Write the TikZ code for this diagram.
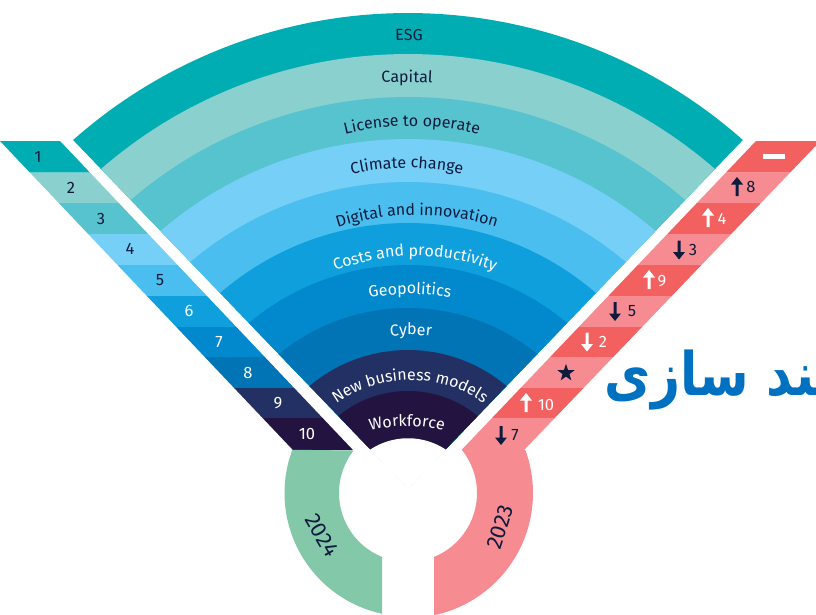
\documentclass[tikz,border=0pt]{standalone}
\usepackage{fontspec}
\usetikzlibrary{decorations.text,shapes.geometric}
\setsansfont{Fira Sans}
\newfontfamily\farsifont[Script=Arabic]{DejaVu Sans}
\TeXXeTstate=1
\definecolor{inkc}{HTML}{0E1B3D}
\definecolor{c1}{HTML}{00ADB3}
\definecolor{c2}{HTML}{89D0CE}
\definecolor{c3}{HTML}{56C3CF}
\definecolor{c4}{HTML}{75CFF7}
\definecolor{c5}{HTML}{4ABFEF}
\definecolor{c6}{HTML}{0F9FDC}
\definecolor{c7}{HTML}{0288CC}
\definecolor{c8}{HTML}{0074B5}
\definecolor{c9}{HTML}{223063}
\definecolor{c10}{HTML}{231340}
\definecolor{redd}{HTML}{F2605F}
\definecolor{redl}{HTML}{F68C91}
\definecolor{greenc}{HTML}{83C9A9}
\definecolor{farsic}{HTML}{0070C0}
\tikzset{
  numlabel/.style={font=\sffamily\fontsize{16.5}{16.5}\selectfont,inner sep=0pt},
  yearlabel/.style={font=\sffamily\fontsize{22}{22}\selectfont,inner sep=0pt,text=inkc},
}
% top y, edge y, colour
\newcommand\fanband[3]{%
  \pgfmathsetmacro\dxx{(488.5-#2)*0.961}%
  \pgfmathsetmacro\cc{(#2+#1)/2+\dxx/(#2-#1)*\dxx/2}%
  \pgfmathsetmacro\rr{\cc-#1}%
  \pgfmathsetmacro\aa{asin(\dxx/\rr)}%
  \fill[#3] plot[domain=-\aa:\aa,samples=90,variable=\t] ({408+\rr*sin(\t)},{\cc-\rr*cos(\t)}) -- (408,488.5) -- cycle;%
}
% text, mid baseline y, radius, half angle, colour, size, centre x
\newcommand\curvelabel[7]{%
  \path[postaction={decorate},decoration={text along path,text align=center,
    text={|\sffamily\fontsize{#6}{#6}\selectfont\color{#5}|#1}}]
    plot[domain=-#4:#4,samples=50,variable=\t] ({#7+#3*sin(\t)},{#2+#3-#3*cos(\t)});%
}
\newcommand\uparr[3]{% x, y mid, colour
  \fill[#3] (#1-1.5,#2+9.5) -- (#1-1.5,#2-2) -- (#1-6,#2-2) -- (#1,#2-9.5) -- (#1+6,#2-2) -- (#1+1.5,#2-2) -- (#1+1.5,#2+9.5) -- cycle;%
}
\newcommand\downarr[3]{%
  \fill[#3] (#1-1.5,#2-9.5) -- (#1-1.5,#2+2) -- (#1-6,#2+2) -- (#1,#2+9.5) -- (#1+6,#2+2) -- (#1+1.5,#2+2) -- (#1+1.5,#2-9.5) -- cycle;%
}
\begin{document}
\begin{tikzpicture}[x=1pt,y=-1pt]
\clip (0,0) rectangle (816,615);
\fill[white] (0,0) rectangle (816,615);
% fan
\fanband{13}{140}{c1}
\fanband{54}{169}{c2}
\fanband{97}{200}{c3}
\fanband{139}{231}{c4}
\fanband{182}{262}{c5}
\fanband{223}{293}{c6}
\fanband{265}{323}{c7}
\fanband{308}{354}{c8}
\fanband{350}{386}{c9}
\fanband{391}{416}{c10}
\fanband{439}{450}{white,draw=white,line width=1.5pt}
% fan labels
\curvelabel{ESG}{40}{470}{5}{inkc}{16}{409}
\curvelabel{Capital}{82}{430}{7}{inkc}{16}{407}
\curvelabel{License to operate}{126}{280}{17}{inkc}{16}{412}
\curvelabel{Climate change}{168}{250}{16}{inkc}{16}{407}
\curvelabel{Digital and innovation}{215}{267}{20}{inkc}{16}{417}
\curvelabel{Costs and productivity}{256}{220}{26}{white}{16}{415}
\curvelabel{Geopolitics}{294}{230}{14}{white}{16}{410}
\curvelabel{Cyber}{335}{190}{10}{white}{16}{411}
\curvelabel{New business models}{380}{127}{42}{white}{16}{410}
\curvelabel{Workforce}{426}{137}{20}{white}{16}{407}
% left strip
\foreach \a/\b/\c in {141/172.7/c1,172.7/203/c2,203/234/c3,234/265/c4,265/296/c5,296/327/c6,327/357/c7,357/388/c8,388/418/c9,418/450/c10}{
  \fill[\c] ({(\a-141)*0.948},\a) -- ({60+(\a-141)*0.948},\a) -- ({60+(\b-141)*0.948},\b) -- ({(\b-141)*0.948},\b) -- cycle;
}
\foreach \n/\x/\y/\c in {1/38/157/inkc,2/71/188/inkc,3/101/219/inkc,4/130/249/inkc,5/160/280/inkc,6/189/311/white,7/219/342/white,8/248/373/white,9/278/403/white,10/307/434/white}{
  \node[numlabel,text=\c] (L\n) at (\x,\y) {\n};
}
% year rings
\fill[greenc] plot[domain=200.5:102.2,samples=60,variable=\t] ({408+123.5*cos(\t)},{493+123.5*sin(\t)})
  -- (382,615) -- (382,557) -- plot[domain=112:218,samples=60,variable=\t] ({408+69*cos(\t)},{493+69*sin(\t)}) -- cycle;
\fill[redl] plot[domain=-20.1:78,samples=60,variable=\t] ({408+125*cos(\t)},{493+125*sin(\t)})
  -- (434,616) -- (434,557) -- plot[domain=68:-38.5,samples=60,variable=\t] ({408+69*cos(\t)},{493+69*sin(\t)}) -- cycle;
\node[yearlabel,rotate=-60] (y24) at (322,535) {2024};
\node[yearlabel,rotate=72] (y23) at (500,527) {2023};
% right strip
\foreach \a/\b/\c in {141/172.7/redd,172.7/203/redl,203/234/redd,234/265/redl,265/296/redd,296/327/redl,327/357/redd,357/388/redl,388/418/redd,418/450/redl}{
  \fill[\c] ({756-(\a-141)*0.953},\a) -- ({820.4-(\a-141)*0.959},\a) -- ({820.4-(\b-141)*0.959},\b) -- ({756-(\b-141)*0.953},\b) -- cycle;
}
\fill[white] (763,154) rectangle (785,159);
\uparr{737}{186.5}{inkc}
\uparr{708}{217.5}{white}
\downarr{679}{250}{inkc}
\uparr{649}{279.5}{white}
\downarr{615}{311.5}{inkc}
\downarr{587}{342}{white}
\uparr{526}{402.5}{white}
\downarr{501}{435.5}{inkc}
\foreach \n/\x/\y/\c in {8/751/187/inkc,4/722/219/white,3/693/250/inkc,9/662/281/white,5/632/311/inkc,2/603/342/white,10/546/405/white,7/515/435/inkc}{
  \node[numlabel,text=\c] (R\n) at (\x,\y) {\n};
}
\node[star,star points=5,star point ratio=2.5,fill=inkc,inner sep=0pt,minimum size=18pt] (st) at (566,373) {};
% overlay text
\node[anchor=east,inner sep=0pt,text=farsic,xscale=.84,font=\farsifont\bfseries\fontsize{60}{60}\selectfont] (fa) at (816,380) {\beginR ^^^^200dند سازی\endR};
\end{tikzpicture}
\end{document}
